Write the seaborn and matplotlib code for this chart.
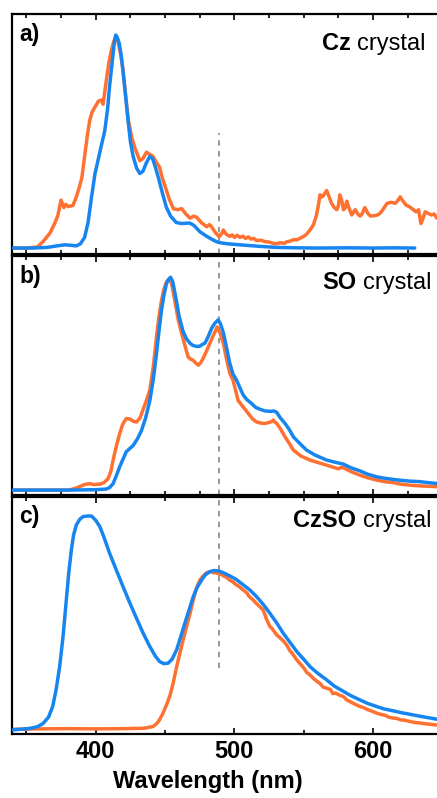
import numpy as np
import pandas as pd
import matplotlib
matplotlib.use("Agg")
import matplotlib.pyplot as plt
import seaborn as sns
from matplotlib.ticker import MultipleLocator

# ---------------- data ----------------
# panel a: Cz crystal
a_orange_wl = [340, 350, 358, 362, 367, 370, 372.6, 375, 377, 378.5, 380, 383.6, 386, 388.4, 390, 392, 394, 395.7,
               397.5, 399.3, 402, 404, 405.3, 407.7, 409.5, 411.3, 413, 414.4, 416, 418, 419.7, 421.5, 423.5, 426,
               428, 430, 431.8, 434, 436.6, 439, 441.4, 443, 446, 448, 450, 453, 456, 459, 462, 465, 468, 470.5,
               472.7, 476, 480, 482, 483.5, 486, 489, 491, 492, 494, 496.7, 498.5, 500, 502, 504, 506, 508, 510,
               512, 514, 516, 519, 522, 525, 528, 530.5, 533, 536, 538, 540, 543, 545, 547, 550, 552, 554.5, 557,
               559, 560.5, 561.7, 563, 564, 565.5, 566.5, 568, 570, 572, 573.8, 575, 576, 577.5, 578.6, 580, 581,
               582.5, 584.6, 586, 587, 589, 590.6, 592, 594, 596, 598, 601, 603, 605, 607, 610, 613, 616, 618,
               619.5, 621, 624, 626, 629, 631, 632.7, 634.5, 636, 637.5, 639, 642, 644, 646, 648]
a_orange = [0.0, 0.0, 0.005, 0.03, 0.07, 0.11, 0.15, 0.225, 0.19, 0.205, 0.195, 0.2, 0.24, 0.29, 0.33, 0.43, 0.53,
            0.60, 0.64, 0.66, 0.69, 0.695, 0.675, 0.79, 0.87, 0.93, 0.97, 0.99, 0.97, 0.91, 0.835, 0.72, 0.60, 0.52,
            0.475, 0.44, 0.41, 0.42, 0.45, 0.44, 0.43, 0.41, 0.38, 0.33, 0.29, 0.23, 0.185, 0.18, 0.185, 0.16,
            0.14, 0.15, 0.145, 0.12, 0.10, 0.11, 0.10, 0.075, 0.053, 0.07, 0.085, 0.065, 0.055, 0.062, 0.05, 0.06,
            0.05, 0.056, 0.045, 0.052, 0.042, 0.045, 0.035, 0.037, 0.03, 0.028, 0.022, 0.02, 0.025, 0.022, 0.03,
            0.032, 0.04, 0.038, 0.045, 0.055, 0.065, 0.085, 0.11, 0.15, 0.2, 0.25, 0.24, 0.245, 0.26, 0.27, 0.245,
            0.21, 0.19, 0.18, 0.2, 0.25, 0.22, 0.18, 0.19, 0.22, 0.19, 0.155, 0.17, 0.18, 0.16, 0.15, 0.16, 0.19,
            0.165, 0.15, 0.152, 0.155, 0.163, 0.18, 0.21, 0.215, 0.21, 0.225, 0.24, 0.225, 0.20, 0.195, 0.18,
            0.17, 0.18, 0.115, 0.14, 0.17, 0.165, 0.155, 0.16, 0.14, 0.145]
a_blue_wl = [340, 355, 365, 372, 377.6, 382, 386, 389, 392, 394.5, 397, 399.5, 401.6, 404, 406.5, 408.5, 410, 412,
             413.5, 414.4, 415.5, 417, 418.5, 420.5, 423.3, 425, 427, 429.5, 431.8, 434, 436.5, 439, 441, 443,
             445, 448, 451, 454, 458, 462, 466, 468, 471, 475, 480, 484, 487, 489.5, 495, 506, 518, 530, 545,
             560, 580, 600, 615, 630]
a_blue = [0.0, 0.0, 0.003, 0.01, 0.015, 0.013, 0.01, 0.02, 0.05, 0.12, 0.24, 0.35, 0.41, 0.48, 0.55, 0.65, 0.76,
          0.88, 0.97, 1.0, 0.99, 0.96, 0.90, 0.78, 0.60, 0.50, 0.43, 0.375, 0.35, 0.36, 0.40, 0.43, 0.42, 0.38,
          0.335, 0.26, 0.19, 0.15, 0.12, 0.115, 0.117, 0.117, 0.105, 0.077, 0.055, 0.04, 0.03, 0.025, 0.02, 0.014,
          0.008, 0.003, 0.001, 0.0, 0.001, 0.0, 0.001, 0.0]

# panel b: SO crystal
b_orange_wl = [340, 381, 386, 390.8, 393, 395.7, 399, 403, 406, 409, 411, 412.5, 415, 417.3, 419.5, 422, 424,
               425.7, 427.5, 429.4, 432, 434, 436.5, 439, 441.5, 443.8, 445.5, 447.4, 449, 451, 453.5, 455, 457,
               459.5, 462, 464.5, 466.6, 468.5, 470.3, 472, 474, 475.8, 477.5, 480, 482.3, 485, 487.6, 489.5, 492,
               494.5, 496.7, 499, 502.7, 504, 507, 510, 513, 516, 519, 522, 525, 527, 528, 529.5, 530.5, 533, 536.5,
               540, 542.5, 548, 554.5, 560, 566.5, 571, 575, 577, 578.6, 584, 590.6, 596, 602.7, 608, 614.7, 620,
               626.7, 633, 640, 646, 648]
b_orange = [0.0, 0.0, 0.01, 0.023, 0.028, 0.03, 0.026, 0.028, 0.035, 0.055, 0.09, 0.14, 0.21, 0.266, 0.31, 0.336,
            0.335, 0.33, 0.322, 0.32, 0.34, 0.376, 0.42, 0.47, 0.58, 0.72, 0.81, 0.89, 0.94, 0.978, 0.995, 0.96,
            0.89, 0.8, 0.735, 0.675, 0.626, 0.615, 0.61, 0.598, 0.587, 0.6, 0.62, 0.655, 0.69, 0.73, 0.767, 0.74,
            0.69, 0.61, 0.548, 0.516, 0.42, 0.41, 0.385, 0.36, 0.335, 0.32, 0.315, 0.313, 0.318, 0.322, 0.329,
            0.318, 0.313, 0.29, 0.25, 0.215, 0.188, 0.16, 0.141, 0.13, 0.117, 0.108, 0.10, 0.107, 0.105, 0.087,
            0.07, 0.058, 0.047, 0.04, 0.035, 0.028, 0.023, 0.02, 0.018, 0.016, 0.015]
b_blue_wl = [340, 380, 400, 407.7, 410, 412.5, 415, 417.3, 420, 422, 424.5, 427, 430, 433, 436, 439, 441.5, 443.8,
             445.5, 447.4, 449, 451, 452.5, 454, 455.5, 457, 458.2, 460, 463, 465.5, 468, 470, 472.7, 475, 477,
             478.7, 481, 483.5, 486, 488.3, 490, 492, 494, 496.7, 499, 501.6, 504, 506.4, 509, 512.4, 515, 518.4,
             522, 526, 528.5, 530.5, 533, 536.5, 540, 542.5, 547, 552, 558, 566.5, 572, 578.6, 584, 590.6, 596,
             602.7, 608, 614.7, 620, 626.7, 633, 640, 646, 648]
b_blue = [0.0, 0.0, 0.002, 0.005, 0.012, 0.03, 0.07, 0.11, 0.15, 0.18, 0.195, 0.21, 0.24, 0.28, 0.34, 0.42, 0.52,
          0.64, 0.74, 0.845, 0.91, 0.97, 0.99, 1.0, 0.98, 0.93, 0.89, 0.82, 0.745, 0.71, 0.69, 0.68, 0.675, 0.676,
          0.685, 0.69, 0.72, 0.76, 0.785, 0.80, 0.78, 0.74, 0.68, 0.595, 0.545, 0.516, 0.48, 0.446, 0.425, 0.407,
          0.39, 0.38, 0.372, 0.37, 0.372, 0.365, 0.34, 0.313, 0.28, 0.25, 0.22, 0.188, 0.165, 0.141, 0.132, 0.122,
          0.105, 0.09, 0.075, 0.062, 0.056, 0.05, 0.046, 0.042, 0.04, 0.035, 0.031, 0.03]

# panel c: CzSO crystal
c_orange_wl = [340, 360, 380, 400, 420, 435, 441.4, 444, 446, 448.5, 451, 453.5, 455.8, 458, 460.6, 463, 465.5,
               468, 470.3, 472.5, 475, 477.5, 480, 483, 485, 487, 489, 490, 492, 494, 496.7, 499, 501, 503, 506.4,
               509, 510.5, 513.6, 516, 518, 520.8, 523, 525.6, 527, 528.5, 530.5, 533, 535, 537.7, 540, 542, 545,
               548, 550, 552, 554.5, 557, 560, 562, 564, 566.5, 569, 571, 573, 575.5, 578.6, 581, 584, 587, 590.6,
               593, 596, 599, 602.7, 606, 609, 611, 614.7, 617, 620, 623, 626.7, 630, 633, 636, 640, 643, 646, 648]
c_orange = [0.003, 0.005, 0.006, 0.005, 0.006, 0.008, 0.016, 0.03, 0.047, 0.078, 0.117, 0.16, 0.218, 0.285, 0.358,
            0.42, 0.483, 0.545, 0.607, 0.66, 0.70, 0.72, 0.735, 0.74, 0.735, 0.735, 0.728, 0.732, 0.72, 0.715,
            0.70, 0.692, 0.68, 0.672, 0.654, 0.64, 0.625, 0.607, 0.59, 0.578, 0.56, 0.52, 0.483, 0.475, 0.462,
            0.444, 0.43, 0.418, 0.397, 0.37, 0.355, 0.327, 0.305, 0.29, 0.27, 0.257, 0.24, 0.225, 0.215, 0.2,
            0.195, 0.19, 0.17, 0.172, 0.163, 0.156, 0.14, 0.13, 0.12, 0.109, 0.105, 0.095, 0.088, 0.078, 0.072,
            0.068, 0.06, 0.055, 0.054, 0.047, 0.045, 0.039, 0.035, 0.033, 0.03, 0.027, 0.025, 0.023, 0.022]
c_blue_wl = [340, 352.3, 358, 362, 366, 369, 371.5, 374, 376.5, 378.8, 380.5, 382.4, 384, 386, 388.5, 390.8, 394,
             397, 400, 403, 406, 410, 415, 419.7, 424.5, 429.4, 434, 439, 443, 446, 449, 452.2, 455, 458.3, 461,
             464.3, 467.5, 470.3, 473, 476.3, 479, 482.3, 485, 488.3, 492, 496.7, 501, 506.4, 511, 516, 521,
             525.6, 530.5, 535.2, 540, 545, 550, 554.5, 560, 566.5, 572, 578.6, 584, 590.6, 596, 602.7, 608,
             614.7, 620, 626.7, 633, 640, 646, 648]
c_blue = [0.0, 0.007, 0.015, 0.03, 0.06, 0.11, 0.19, 0.296, 0.44, 0.607, 0.73, 0.84, 0.91, 0.958, 0.985, 0.997,
          1.0, 1.0, 0.98, 0.95, 0.9, 0.826, 0.745, 0.67, 0.595, 0.522, 0.455, 0.39, 0.345, 0.32, 0.31, 0.312, 0.33,
          0.374, 0.43, 0.5, 0.565, 0.623, 0.665, 0.70, 0.725, 0.74, 0.745, 0.744, 0.735, 0.72, 0.705, 0.678, 0.655,
          0.623, 0.585, 0.545, 0.5, 0.452, 0.41, 0.366, 0.33, 0.296, 0.265, 0.234, 0.205, 0.18, 0.16, 0.14, 0.124,
          0.109, 0.098, 0.089, 0.081, 0.073, 0.065, 0.057, 0.05, 0.048]

panel_labels = ["a)", "b)", "c)"]
sample_bold = ["Cz", "SO", "CzSO"]
sample_rest = "crystal"
xticks_major = [400, 500, 600]
xlabel_text = "Wavelength (nm)"
marker_wl = 489

# ---------------- style ----------------
sns.set_style("white")
plt.rcParams["font.family"] = ["Liberation Sans", "DejaVu Sans"]
plt.rcParams["text.color"] = "black"
plt.rcParams["axes.labelcolor"] = "black"
plt.rcParams["xtick.color"] = "black"
plt.rcParams["xtick.labelcolor"] = "black"

ORANGE = "#FF7131"
BLUE = "#1785F0"
FS = 16.5
FS_TITLE = 17
FS_TICK = 17

W, H = 437, 798
fig = plt.figure(figsize=(W / 100, H / 100), dpi=100)

# axes pixel extents (top, bottom)
extents = [(14, 254), (256, 495), (497, 734)]
left_px, right_px = 12, 440
ylims = [(-0.028, 1.099), (-0.023, 1.10), (-0.019, 1.089)]
vline_spans = [(0.0, 0.504), (0.0, 1.0), (0.28, 1.0)]
title_pos = [(0.967, 0.85), (0.98, 0.861), (0.98, 0.875)]
label_pos = [(0.017, 0.886), (0.017, 0.889), (0.017, 0.889)]

series = [
    (a_orange_wl, a_orange, a_blue_wl, a_blue),
    (b_orange_wl, b_orange, b_blue_wl, b_blue),
    (c_orange_wl, c_orange, c_blue_wl, c_blue),
]

axes = []
for i, (top, bot) in enumerate(extents):
    ax = fig.add_axes([left_px / W, 1 - bot / H, (right_px - left_px) / W, (bot - top) / H])
    axes.append(ax)
    ow, ov, bw, bv = series[i]
    dfo = pd.DataFrame({"wl": ow, "I": ov})
    dfb = pd.DataFrame({"wl": bw, "I": bv})
    ax.axvline(marker_wl, ymin=vline_spans[i][0], ymax=vline_spans[i][1], color="#8f8f8f",
               lw=1.3, ls=(0, (3, 3)), zorder=1)
    sns.lineplot(data=dfo, x="wl", y="I", ax=ax, color=ORANGE, lw=2.5, estimator=None, zorder=2)
    sns.lineplot(data=dfb, x="wl", y="I", ax=ax, color=BLUE, lw=2.5, estimator=None, zorder=3)
    ax.set_xlim(339.65, 648.2)
    ax.set_ylim(*ylims[i])
    ax.set_yticks([])
    ax.set_ylabel("")
    ax.xaxis.set_major_locator(MultipleLocator(100))
    ax.xaxis.set_minor_locator(MultipleLocator(50 if i == 2 else 25))
    ax.tick_params(axis="x", which="both", direction="in", top=True, bottom=True,
                   width=1.2, color="black")
    ax.tick_params(axis="x", which="major", length=4.5)
    ax.tick_params(axis="x", which="minor", length=3)
    for s in ax.spines.values():
        s.set_linewidth(1.6)
        s.set_color("black")
    if i < 2:
        ax.tick_params(axis="x", labelbottom=False)
        ax.set_xlabel("")
    else:
        ax.set_xticks(xticks_major)
        ax.tick_params(axis="x", which="major", pad=4.5, labelsize=FS_TICK, labelcolor="black")
        for lab in ax.get_xticklabels():
            lab.set_fontweight("bold")
        ax.set_xlabel(xlabel_text, fontsize=17, fontweight="bold", color="black")
        ax.xaxis.set_label_coords((208 - left_px) / (right_px - left_px), -0.15)

    ax.text(label_pos[i][0], label_pos[i][1], panel_labels[i], transform=ax.transAxes,
            ha="left", va="baseline", fontsize=FS, fontweight="bold", color="black")
    t = ax.text(title_pos[i][0], title_pos[i][1], sample_rest, transform=ax.transAxes,
                ha="right", va="baseline", fontsize=FS_TITLE, color="black")
    ax.annotate(sample_bold[i], xy=(0, 0), xycoords=t, xytext=(-4.7, 0), textcoords="offset points",
                ha="right", va="bottom", fontsize=FS_TITLE, fontweight="bold", color="black")

fig.savefig("out.png", dpi=100)
